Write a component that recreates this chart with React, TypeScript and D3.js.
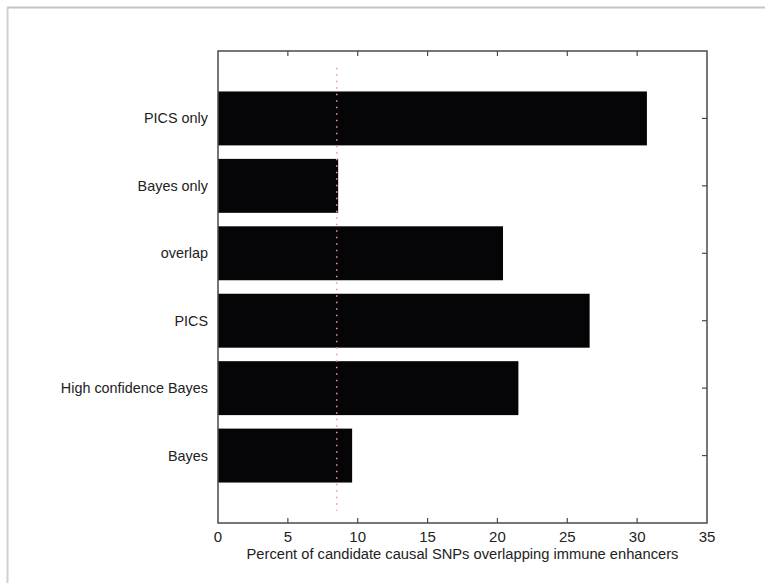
import { useEffect, useRef } from "react";
import * as d3 from "d3";

const categories = ["Bayes", "High confidence Bayes", "PICS", "overlap", "Bayes only", "PICS only"];
const percents = [9.6, 21.5, 26.6, 20.4, 8.6, 30.7];
const xTicks = [0, 5, 10, 15, 20, 25, 30, 35];
const threshold = 8.5;

const WIDTH = 765;
const HEIGHT = 583;
const PLOT = { left: 218, top: 51, right: 707, bottom: 523 };
const FONT = "'Liberation Sans', Arial, Helvetica, sans-serif";
const AXIS_COLOR = "#4a4a4a";

export default function App() {
  const svgRef = useRef<SVGSVGElement>(null);

  useEffect(() => {
    const svg = d3.select(svgRef.current);
    svg.selectAll("*").remove();

    const x = d3.scaleLinear().domain([0, 35]).range([PLOT.left, PLOT.right]);
    const y = d3.scaleLinear().domain([0, categories.length + 1]).range([PLOT.bottom, PLOT.top]);
    const barH = y(0) - y(0.8);

    // outer figure frame (top and left edges only visible)
    svg.append("line").attr("x1", 7).attr("x2", WIDTH).attr("y1", 7.5).attr("y2", 7.5)
      .attr("stroke", "#c4c4c4").attr("stroke-width", 2);
    svg.append("line").attr("x1", 7.5).attr("x2", 7.5).attr("y1", 7).attr("y2", HEIGHT)
      .attr("stroke", "#d0d0d0").attr("stroke-width", 2);

    // bars
    svg.selectAll(".bar")
      .data(percents)
      .join("rect")
      .attr("class", "bar")
      .attr("x", x(0))
      .attr("y", (_, i) => y(i + 1) - barH / 2)
      .attr("width", (d) => x(d) - x(0))
      .attr("height", barH)
      .attr("fill", "#050507");

    // dotted reference line
    svg.append("line")
      .attr("x1", x(threshold)).attr("x2", x(threshold))
      .attr("y1", y(6.75)).attr("y2", y(0.18))
      .attr("stroke", "#e89a9a")
      .attr("stroke-width", 1.5)
      .attr("stroke-dasharray", "1.5,5");

    // box
    svg.append("rect")
      .attr("x", PLOT.left).attr("y", PLOT.top)
      .attr("width", PLOT.right - PLOT.left).attr("height", PLOT.bottom - PLOT.top)
      .attr("fill", "none").attr("stroke", AXIS_COLOR).attr("stroke-width", 1.5);

    const tick = 5;
    // x ticks (inward, top and bottom)
    xTicks.slice(1, -1).forEach((t) => {
      svg.append("line").attr("x1", x(t)).attr("x2", x(t)).attr("y1", PLOT.bottom).attr("y2", PLOT.bottom - tick)
        .attr("stroke", AXIS_COLOR).attr("stroke-width", 1.2);
      svg.append("line").attr("x1", x(t)).attr("x2", x(t)).attr("y1", PLOT.top).attr("y2", PLOT.top + tick)
        .attr("stroke", AXIS_COLOR).attr("stroke-width", 1.2);
    });
    // y ticks (inward, right side)
    categories.forEach((_, i) => {
      svg.append("line").attr("x1", PLOT.right).attr("x2", PLOT.right - tick)
        .attr("y1", y(i + 1)).attr("y2", y(i + 1))
        .attr("stroke", AXIS_COLOR).attr("stroke-width", 1.2);
    });

    // x tick labels
    svg.selectAll(".xlab")
      .data(xTicks)
      .join("text")
      .attr("class", "xlab")
      .attr("x", (d) => x(d))
      .attr("y", 542)
      .attr("text-anchor", "middle")
      .attr("font-family", FONT)
      .attr("font-size", 15)
      .attr("fill", "#222")
      .text((d) => d);

    // y labels
    svg.selectAll(".ylab")
      .data(categories)
      .join("text")
      .attr("class", "ylab")
      .attr("x", 208)
      .attr("y", (_, i) => y(i + 1) + 5)
      .attr("text-anchor", "end")
      .attr("font-family", FONT)
      .attr("font-size", 14.4)
      .attr("fill", "#222")
      .text((d) => d);

    // x axis title
    svg.append("text")
      .attr("x", (PLOT.left + PLOT.right) / 2)
      .attr("y", 559)
      .attr("text-anchor", "middle")
      .attr("font-family", FONT)
      .attr("font-size", 14.7)
      .attr("fill", "#222")
      .text("Percent of candidate causal SNPs overlapping immune enhancers");
  }, []);

  return (
    <svg
      ref={svgRef}
      width={WIDTH}
      height={HEIGHT}
      style={{ position: "absolute", left: 0, top: 0, background: "#fff" }}
    />
  );
}
